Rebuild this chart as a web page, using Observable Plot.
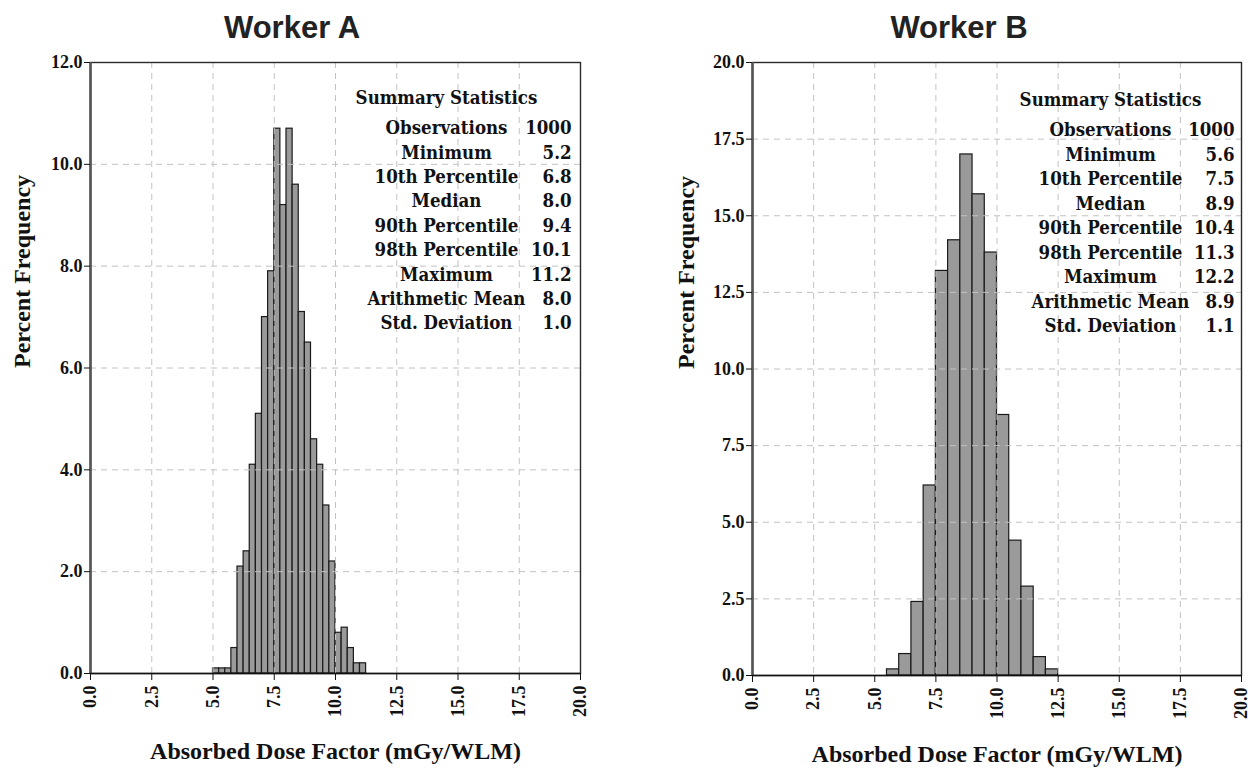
<!DOCTYPE html>
<html><head><meta charset="utf-8">
<script src="https://cdn.jsdelivr.net/npm/d3@7"></script>
<script src="https://cdn.jsdelivr.net/npm/@observablehq/plot@0.6"></script>
<style>
html,body{margin:0;padding:0;background:#fff}
body{width:1250px;height:768px;overflow:hidden;position:relative}
.title{position:absolute;z-index:5;font-family:"Liberation Sans",Arial,sans-serif;font-weight:bold;font-size:31px;line-height:31px;color:#222;transform:translateX(-50%);white-space:nowrap}
.panel{position:absolute;top:0;z-index:1}
</style></head><body>
<div class="panel" id="pA" style="left:0px"></div>
<div class="panel" id="pB" style="left:625px"></div>
<div class="title" style="left:292px;top:12px">Worker A</div>
<div class="title" style="left:959px;top:12px">Worker B</div>
<script>
// ---- data ----
const xTicks = [0, 2.5, 5, 7.5, 10, 12.5, 15, 17.5, 20];
const yTicksA = [0, 2, 4, 6, 8, 10, 12];
const yTicksB = [0, 2.5, 5, 7.5, 10, 12.5, 15, 17.5, 20];

const edgesA = [5.0, 5.25, 5.5, 5.75, 6.0, 6.25, 6.5, 6.75, 7.0, 7.25, 7.5, 7.75, 8.0, 8.25, 8.5, 8.75, 9.0, 9.25, 9.5, 9.75, 10.0, 10.25, 10.5, 10.75, 11.0, 11.25];
const pctA = [0.1, 0.1, 0.1, 0.5, 2.1, 2.4, 4.1, 5.1, 7.0, 7.9, 10.7, 9.2, 10.7, 9.6, 7.1, 6.5, 4.6, 4.1, 3.3, 2.2, 0.8, 0.9, 0.5, 0.2, 0.2];

const edgesB = [5.5, 6.0, 6.5, 7.0, 7.5, 8.0, 8.5, 9.0, 9.5, 10.0, 10.5, 11.0, 11.5, 12.0, 12.5];
const pctB = [0.2, 0.7, 2.4, 6.2, 13.2, 14.2, 17.0, 15.7, 13.8, 8.5, 4.4, 2.9, 0.6, 0.2];

const statLabels = ["Observations", "Minimum", "10th Percentile", "Median", "90th Percentile", "98th Percentile", "Maximum", "Arithmetic Mean", "Std. Deviation"];
const statsA = ["1000", "5.2", "6.8", "8.0", "9.4", "10.1", "11.2", "8.0", "1.0"];
const statsB = ["1000", "5.6", "7.5", "8.9", "10.4", "11.3", "12.2", "8.9", "1.1"];

const statsTitle = "Summary Statistics";
const yLabel = "Percent Frequency";
const xLabel = "Absorbed Dose Factor (mGy/WLM)";

// ---- drawing ----
const serif = '"Liberation Serif", "Times New Roman", serif';
const statFont = '"DejaVu Serif Condensed", "DejaVu Serif", serif';

function panel(o) {
  const bins = o.pct.map((p, i) => ({x1: o.edges[i], x2: o.edges[i + 1], pct: p}));
  const grid = {stroke: "#c2c2c2", strokeOpacity: 1, strokeWidth: 1, strokeDasharray: "6,5"};
  const fs = 18.5;
  const lh = o.rowStep / fs;
  const st = {frameAnchor: "top-right", fontSize: fs, fontWeight: "bold", fontFamily: statFont, fill: "#111", lineAnchor: "middle"};
  return Plot.plot({
    width: 625, height: 768,
    marginLeft: o.ml, marginRight: o.mr, marginTop: 62, marginBottom: o.mb,
    x: {domain: [0, 20]},
    y: {domain: [0, o.yMax]},
    style: {fontFamily: serif, fontWeight: "bold", fontSize: "18px", color: "#111", background: "transparent", overflow: "visible"},
    marks: [
      Plot.rectY(bins, {x1: "x1", x2: "x2", y: "pct", fill: "#9a9a9a", stroke: "#1a1a1a", strokeWidth: 1.2}),
      Plot.gridX(xTicks, grid),
      Plot.gridY(o.yTicks, grid),
      Plot.frame({stroke: "#2a2a2a", strokeWidth: 1.4}),
      Plot.ruleX([0], {stroke: "#555", strokeWidth: 2.6}),
      Plot.ruleY([0], {stroke: "#111", strokeWidth: 1.4}),
      Plot.axisX(xTicks, {tickRotate: -90, tickFormat: d => d.toFixed(1), tickSize: 7, tickPadding: 5, label: null, fontSize: 18, fontWeight: "bold"}),
      Plot.axisY(o.yTicks, {tickFormat: d => d.toFixed(1), tickSize: 6, tickPadding: 2, label: null, fontSize: 18, fontWeight: "bold"}),
      Plot.text([yLabel], {frameAnchor: "left", dx: o.yLabDx, rotate: -90, fontSize: 24, fontWeight: "bold", fontFamily: serif, fill: "#111"}),
      Plot.text([xLabel], {frameAnchor: "bottom", dy: o.xLabDy, fontSize: 24, fontWeight: "bold", fontFamily: serif, fill: "#111"}),
      Plot.text([statsTitle], {...st, dx: o.labDx, dy: o.headDy, textAnchor: "middle"}),
      Plot.text([statLabels.join("\n")], {...st, dx: o.labDx, dy: o.midDy, lineHeight: lh, textAnchor: "middle"}),
      Plot.text([o.stats.join("\n")], {...st, dx: o.valDx, dy: o.midDy, lineHeight: lh, textAnchor: "end"})
    ]
  });
}

document.getElementById("pA").append(panel({
  edges: edgesA, pct: pctA, yMax: 12, yTicks: yTicksA, stats: statsA,
  ml: 90, mr: 45, mb: 95, yLabDx: -68, xLabDy: 85,
  labDx: -134, valDx: -9, headDy: 36, midDy: 161.5, rowStep: 24.4
}));
document.getElementById("pB").append(panel({
  edges: edgesB, pct: pctB, yMax: 20, yTicks: yTicksB, stats: statsB,
  ml: 127, mr: 9, mb: 93, yLabDx: -66, xLabDy: 86,
  labDx: -131, valDx: -7, headDy: 38, midDy: 164, rowStep: 24.5
}));
</script>
</body></html>
